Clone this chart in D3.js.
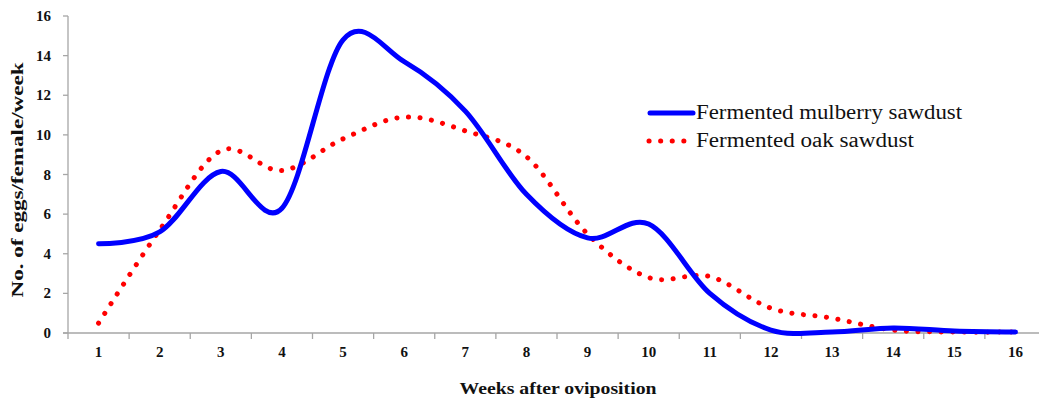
<!DOCTYPE html>
<html>
<head>
<meta charset="utf-8">
<script src="https://cdn.jsdelivr.net/npm/d3@7"></script>
<style>
  html, body { margin: 0; padding: 0; background: #fff; }
  svg { display: block; }
</style>
</head>
<body>
<script>
const weeks = ['1', '2', '3', '4', '5', '6', '7', '8', '9', '10', '11', '12', '13', '14', '15', '16'];
const mulberry = [4.5, 5.1, 8.15, 6.3, 14.8, 13.7, 11.2, 7.0, 4.8, 5.5, 2.0, 0.15, 0.05, 0.25, 0.1, 0.05];
const oak = [0.5, 5.2, 9.2, 8.2, 9.8, 10.9, 10.2, 8.9, 5.0, 2.8, 2.85, 1.25, 0.75, 0.15, 0.05, 0.05];
const yTicks = [0, 2, 4, 6, 8, 10, 12, 14, 16];
const seriesNames = ['Fermented mulberry sawdust', 'Fermented oak sawdust'];

const W = 1039, H = 403;
const FONT = '"Liberation Serif", "DejaVu Serif", serif';
const AX = '#a6a6a6';
const svg = d3.select('body').append('svg').attr('width', W).attr('height', H);

const x = d3.scaleBand().domain(weeks).range([68, 1046]);
const y = d3.scaleLinear().domain([0, 16]).range([333, 16]);
const cx = (d) => x(d) + x.bandwidth() / 2;

// y axis
svg.append('line').attr('x1', 68).attr('x2', 68).attr('y1', y(16)).attr('y2', y(0)).attr('stroke', AX).attr('stroke-width', 1.3);
svg.append('g').selectAll('line').data(yTicks).join('line')
  .attr('x1', 63).attr('x2', 68).attr('y1', y).attr('y2', y).attr('stroke', AX).attr('stroke-width', 1.3);
svg.append('g').selectAll('text').data(yTicks).join('text')
  .attr('x', 51).attr('y', (d) => y(d) + 5).attr('text-anchor', 'end')
  .attr('font-family', FONT).attr('font-weight', 700).attr('font-size', 15).attr('fill', '#111')
  .text((d) => d);

// x axis
svg.append('line').attr('x1', 63).attr('x2', W).attr('y1', y(0)).attr('y2', y(0)).attr('stroke', AX).attr('stroke-width', 1.3);
const bounds = weeks.map((d) => x(d)).concat([x(weeks[weeks.length - 1]) + x.bandwidth()]);
svg.append('g').selectAll('line').data(bounds).join('line')
  .attr('x1', (d) => d).attr('x2', (d) => d).attr('y1', y(0)).attr('y2', y(0) + 6).attr('stroke', AX).attr('stroke-width', 1.3);
svg.append('g').selectAll('text').data(weeks).join('text')
  .attr('x', cx).attr('y', 357).attr('text-anchor', 'middle')
  .attr('font-family', FONT).attr('font-weight', 700).attr('font-size', 15).attr('fill', '#111')
  .text((d) => d);

// axis titles
svg.append('text').attr('x', 558).attr('y', 394).attr('text-anchor', 'middle')
  .attr('font-family', FONT).attr('font-weight', 700).attr('font-size', 16).attr('fill', '#111')
  .attr('textLength', 197).attr('lengthAdjust', 'spacingAndGlyphs')
  .text('Weeks after oviposition');
svg.append('text').attr('transform', 'translate(23,180) rotate(-90)').attr('text-anchor', 'middle')
  .attr('font-family', FONT).attr('font-weight', 700).attr('font-size', 17).attr('fill', '#111')
  .attr('textLength', 235).attr('lengthAdjust', 'spacingAndGlyphs')
  .text('No. of eggs/female/week');

// lines
const line = d3.line().x((d, i) => cx(weeks[i])).y((d) => y(d)).curve(d3.curveCatmullRom.alpha(0));
svg.append('path').attr('d', line(oak)).attr('fill', 'none').attr('stroke', '#ff0000')
  .attr('stroke-width', 5).attr('stroke-linecap', 'round').attr('stroke-dasharray', '0.1 11.5');
svg.append('path').attr('d', line(mulberry)).attr('fill', 'none').attr('stroke', '#0000ff')
  .attr('stroke-width', 5).attr('stroke-linecap', 'round');

// legend
const leg = svg.append('g');
leg.append('line').attr('x1', 650).attr('x2', 693).attr('y1', 113).attr('y2', 113)
  .attr('stroke', '#0000ff').attr('stroke-width', 5).attr('stroke-linecap', 'round');
leg.append('line').attr('x1', 649).attr('x2', 691).attr('y1', 141).attr('y2', 141)
  .attr('stroke', '#ff0000').attr('stroke-width', 5).attr('stroke-linecap', 'round').attr('stroke-dasharray', '0.1 11.5');
leg.selectAll('text').data(seriesNames).join('text')
  .attr('x', 696).attr('y', (d, i) => 119 + i * 28)
  .attr('font-family', FONT).attr('font-size', 20).attr('fill', '#111')
  .attr('textLength', (d, i) => i === 0 ? 266 : 218).attr('lengthAdjust', 'spacingAndGlyphs')
  .text((d) => d);
</script>
</body>
</html>
